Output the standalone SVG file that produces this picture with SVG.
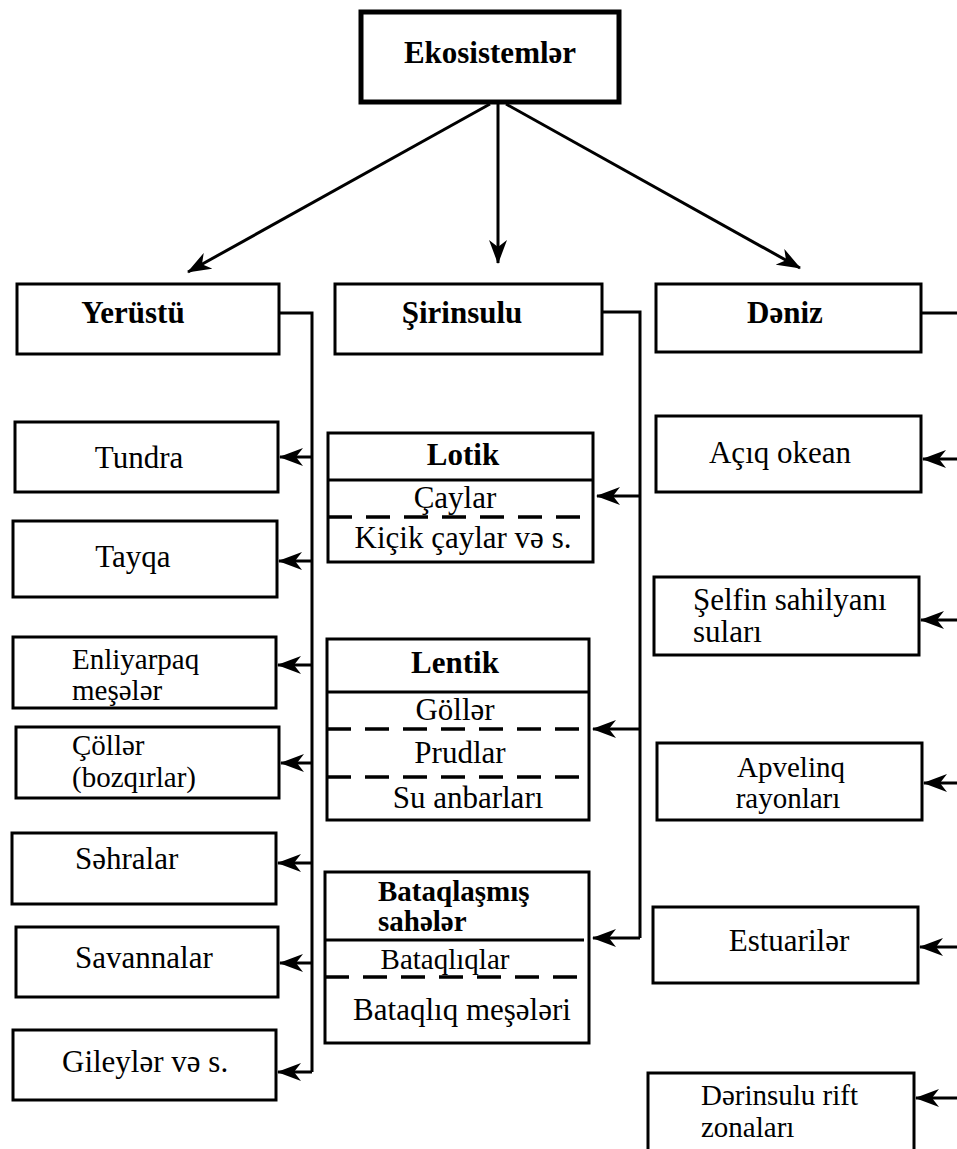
<svg xmlns="http://www.w3.org/2000/svg" width="957" height="1149" viewBox="0 0 957 1149">
  <style>
    .box { fill: #fff; stroke: #000; stroke-width: 3; }
    .root { fill: #fff; stroke: #000; stroke-width: 5; }
    .div { stroke: #000; stroke-width: 3; fill: none; }
    .dash { stroke: #000; stroke-width: 3.5; fill: none; stroke-dasharray: 24 14; }
    .wire { stroke: #000; stroke-width: 3; fill: none; }
    .arrow { stroke: #000; stroke-width: 3; fill: none; marker-end: url(#head); }
    text { font-family: "Liberation Serif", "Times New Roman", serif; font-size: 31px; fill: #000; }
    .b { font-weight: bold; }
    .c { text-anchor: middle; }
    .t2 { font-size: 29px; }
  </style>
  <defs>
    <marker id="head" viewBox="0 0 24 18" refX="23" refY="9" markerWidth="24" markerHeight="18" orient="auto" markerUnits="userSpaceOnUse">
      <path d="M24,9 L0,0 L7,9 L0,18 Z" fill="#000"/>
    </marker>
  </defs>

  <!-- connectors -->
  <g id="connectors">
    <line class="arrow" x1="490" y1="104" x2="188" y2="272"/>
    <line class="arrow" x1="498" y1="104" x2="498" y2="263"/>
    <line class="arrow" x1="506" y1="104" x2="800" y2="268"/>

    <!-- land branch -->
    <polyline class="wire" points="279,313 312,313 312,1072"/>
    <line class="arrow" x1="312" y1="457" x2="280" y2="457"/>
    <line class="arrow" x1="312" y1="561" x2="279" y2="561"/>
    <line class="arrow" x1="312" y1="665" x2="278" y2="665"/>
    <line class="arrow" x1="312" y1="763" x2="281" y2="763"/>
    <line class="arrow" x1="312" y1="863" x2="278" y2="863"/>
    <line class="arrow" x1="312" y1="963" x2="280" y2="963"/>
    <line class="arrow" x1="312" y1="1072" x2="278" y2="1072"/>

    <!-- freshwater branch -->
    <polyline class="wire" points="602,312 640,312 640,938"/>
    <line class="arrow" x1="640" y1="496" x2="597" y2="496"/>
    <line class="arrow" x1="640" y1="729" x2="593" y2="729"/>
    <line class="arrow" x1="640" y1="938" x2="593" y2="938"/>

    <!-- marine branch -->
    <polyline class="wire" points="921,313 960,313 960,1098"/>
    <line class="arrow" x1="960" y1="459" x2="923" y2="459"/>
    <line class="arrow" x1="960" y1="620" x2="921" y2="620"/>
    <line class="arrow" x1="960" y1="783" x2="924" y2="783"/>
    <line class="arrow" x1="960" y1="947" x2="920" y2="947"/>
    <line class="arrow" x1="960" y1="1098" x2="916" y2="1098"/>
  </g>

  <!-- root -->
  <g id="ekosistemler">
    <rect class="root" x="361" y="12" width="258" height="90"/>
    <text class="b c" x="490" y="63">Ekosistemlər</text>
  </g>

  <!-- category headers -->
  <g id="yerustu">
    <rect class="box" x="17" y="284" width="262" height="70"/>
    <text class="b c" x="133" y="323">Yerüstü</text>
  </g>
  <g id="sirinsulu">
    <rect class="box" x="335" y="284" width="267" height="70"/>
    <text class="b c" x="462" y="323">Şirinsulu</text>
  </g>
  <g id="deniz">
    <rect class="box" x="656" y="284" width="265" height="68"/>
    <text class="b c" x="785" y="323">Dəniz</text>
  </g>

  <!-- land ecosystems -->
  <g id="tundra">
    <rect class="box" x="15" y="422" width="263" height="70"/>
    <text class="c" x="139" y="468">Tundra</text>
  </g>
  <g id="tayqa">
    <rect class="box" x="13" y="521" width="264" height="76"/>
    <text class="c" x="133" y="567">Tayqa</text>
  </g>
  <g id="enliyarpaq">
    <rect class="box" x="13" y="637" width="263" height="71"/>
    <text class="t2" x="72" y="669">Enliyarpaq</text>
    <text class="t2" x="72" y="700">meşələr</text>
  </g>
  <g id="coller">
    <rect class="box" x="16" y="727" width="263" height="71"/>
    <text class="t2" x="72" y="755">Çöllər</text>
    <text class="t2" x="72" y="787">(bozqırlar)</text>
  </g>
  <g id="sehralar">
    <rect class="box" x="12" y="833" width="264" height="71"/>
    <text x="75" y="869">Səhralar</text>
  </g>
  <g id="savannalar">
    <rect class="box" x="16" y="927" width="262" height="70"/>
    <text x="75" y="968">Savannalar</text>
  </g>
  <g id="gileyler">
    <rect class="box" x="13" y="1030" width="263" height="70"/>
    <text x="62" y="1072">Gileylər və s.</text>
  </g>

  <!-- freshwater ecosystems -->
  <g id="lotik">
    <rect class="box" x="328" y="433" width="265" height="129"/>
    <line class="div" x1="328" y1="480" x2="593" y2="480"/>
    <line class="dash" x1="328" y1="517" x2="593" y2="517"/>
    <text class="b c" x="463" y="465">Lotik</text>
    <text class="c" x="455" y="508">Çaylar</text>
    <text class="c" x="463" y="548">Kiçik çaylar və s.</text>
  </g>
  <g id="lentik">
    <rect class="box" x="327" y="639" width="262" height="181"/>
    <line class="div" x1="327" y1="692" x2="589" y2="692"/>
    <line class="dash" x1="327" y1="729" x2="589" y2="729"/>
    <line class="dash" x1="327" y1="777" x2="589" y2="777"/>
    <text class="b c" x="455" y="673">Lentik</text>
    <text class="c" x="455" y="720">Göllər</text>
    <text class="c" x="460" y="763">Prudlar</text>
    <text class="c" x="468" y="808">Su anbarları</text>
  </g>
  <g id="bataqlasmis">
    <rect class="box" x="325" y="872" width="264" height="171"/>
    <line class="div" x1="325" y1="940" x2="584" y2="940"/>
    <line class="dash" x1="325" y1="977" x2="589" y2="977"/>
    <text class="b t2" x="378" y="901">Bataqlaşmış</text>
    <text class="b t2" x="378" y="931">sahələr</text>
    <text class="c t2" x="445" y="969">Bataqlıqlar</text>
    <text class="c" x="462" y="1020">Bataqlıq meşələri</text>
  </g>

  <!-- marine ecosystems -->
  <g id="aciq-okean">
    <rect class="box" x="656" y="416" width="265" height="76"/>
    <text class="c" x="780" y="463">Açıq okean</text>
  </g>
  <g id="selfin">
    <rect class="box" x="654" y="577" width="265" height="78"/>
    <text x="693" y="610">Şelfin sahilyanı</text>
    <text x="693" y="642">suları</text>
  </g>
  <g id="apvelinq">
    <rect class="box" x="657" y="743" width="265" height="77"/>
    <text class="c t2" x="791" y="777">Apvelinq</text>
    <text class="c t2" x="788" y="808">rayonları</text>
  </g>
  <g id="estuariler">
    <rect class="box" x="653" y="907" width="265" height="76"/>
    <text class="c" x="789" y="951">Estuarilər</text>
  </g>
  <g id="derinsulu">
    <rect class="box" x="648" y="1073" width="266" height="90"/>
    <text class="t2" x="701" y="1105">Dərinsulu rift</text>
    <text class="t2" x="701" y="1137">zonaları</text>
  </g>
</svg>
